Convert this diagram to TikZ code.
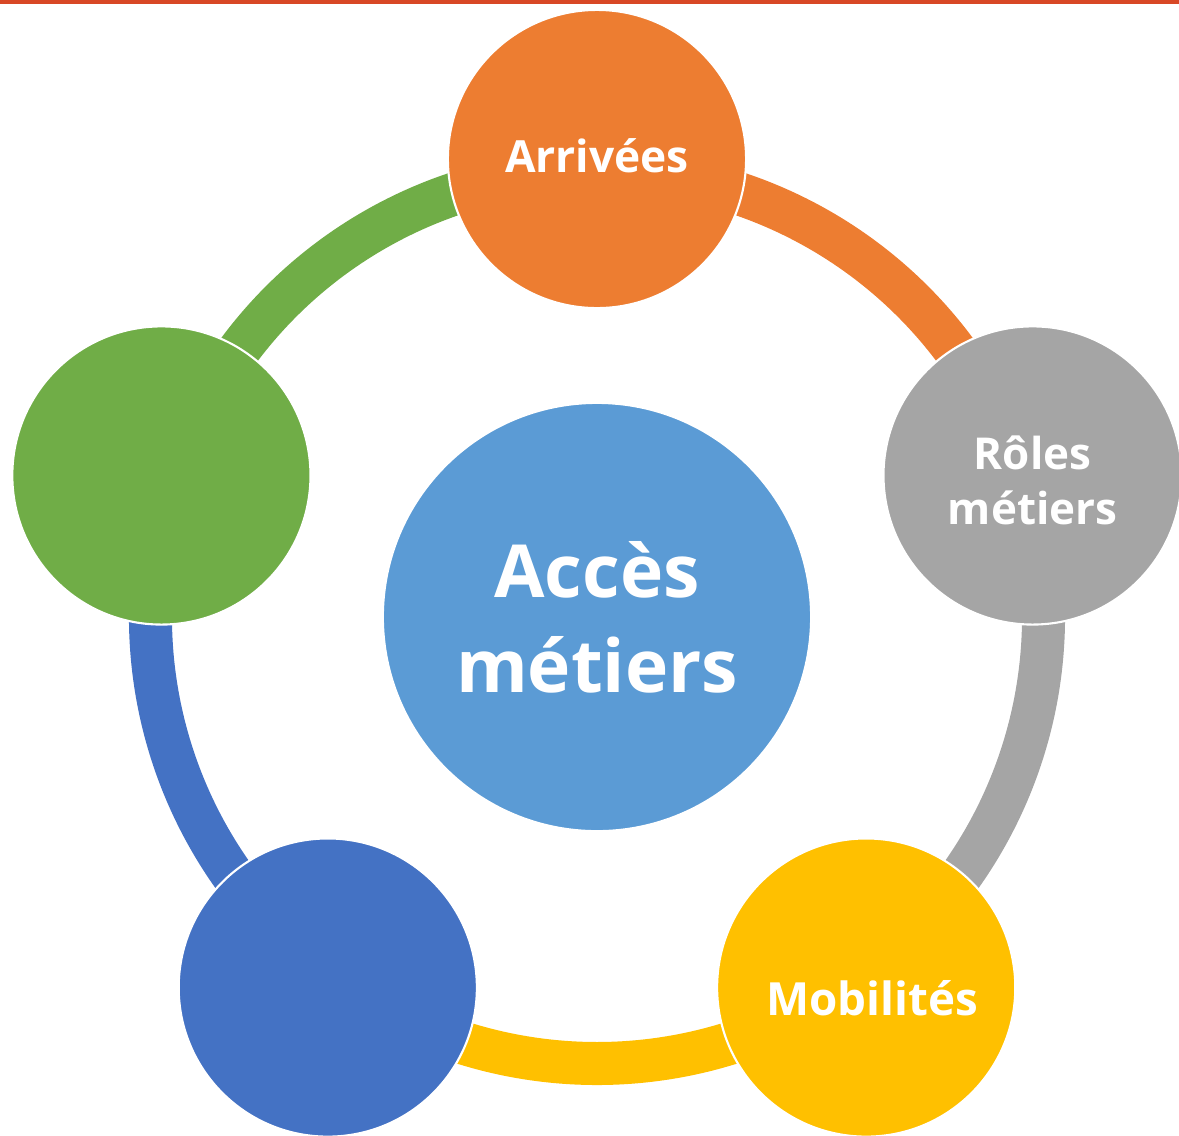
\documentclass[tikz,border=0pt]{standalone}
\usepackage{fontspec}
\setmainfont{Open Sans}
\usetikzlibrary{calc, math}
\definecolor{myorange}{RGB}{237,125,49}
\definecolor{mygray}{RGB}{165,165,165}
\definecolor{myyellow}{RGB}{255,192,0}
\definecolor{myblue}{RGB}{68,114,196}
\definecolor{mygreen}{RGB}{112,173,71}
\definecolor{mysky}{RGB}{91,155,213}
\definecolor{myred}{RGB}{216,72,38}

\begin{document}
\begin{tikzpicture}[x=0.01cm,y=0.01cm,
  bubble/.style={circle,draw=white,line width=0.6pt,minimum size=2.98cm,inner sep=0pt,
    text=white,align=center,font=\bfseries\fontsize{12.6}{15.6}\selectfont},
  band/.style={line width=0.43cm}]
\tikzmath{
\Rg=458;
\Ra=446.5;
}

\useasboundingbox (-597,-518) rectangle (582,617);
\draw[myred,line width=1.5pt] (-597,616) -- (582,616);

\coordinate (CM) at (0,0);

% ring under the bubbles
\draw[band,myorange] ($(CM)+(90:\Ra)$) arc[start angle=90,end angle=18,radius=\Ra];
\draw[band,mygray] ($(CM)+(18:\Ra)$) arc[start angle=18,end angle=-54,radius=\Ra];
\draw[band,myyellow] ($(CM)+(-54:\Ra)$) arc[start angle=-54,end angle=-126,radius=\Ra];
\draw[band,myblue] ($(CM)+(-126:\Ra)$) arc[start angle=-126,end angle=-198,radius=\Ra];
\draw[band,mygreen] ($(CM)+(162:\Ra)$) arc[start angle=162,end angle=90,radius=\Ra];

\node[bubble,fill=myorange] (arr) at ($(CM)+(90:\Rg)$) {};
\node[bubble,fill=mygray] (rol) at ($(CM)+(18:\Rg)$) {};
\node[bubble,fill=myyellow] (mob) at ($(CM)+(-54:\Rg)$) {};
\node[bubble,fill=myblue] (bl) at ($(CM)+(-126:\Rg)$) {};
\node[bubble,fill=mygreen] (gr) at ($(CM)+(162:\Rg)$) {};

% labels, a bit off the centres as in the original
\node[text=white,font=\bfseries\fontsize{12.6}{15.6}\selectfont] (arrtxt) at ($(arr)+(0,3)$) {Arrivées};
\node[text=white,align=center,font=\bfseries\fontsize{12.5}{15.6}\selectfont] (roltxt) at ($(rol)+(0,-5)$) {Rôles\\métiers};
\node[text=white,font=\bfseries\fontsize{13}{15.6}\selectfont] (mobtxt) at ($(mob)+(6,-11)$) {Mobilités};

\node[bubble,fill=mysky,minimum size=4.28cm,font=\bfseries\fontsize{20.8}{27}\selectfont] (acc) at (CM) {Accès\\métiers};

\end{tikzpicture}
\end{document}
